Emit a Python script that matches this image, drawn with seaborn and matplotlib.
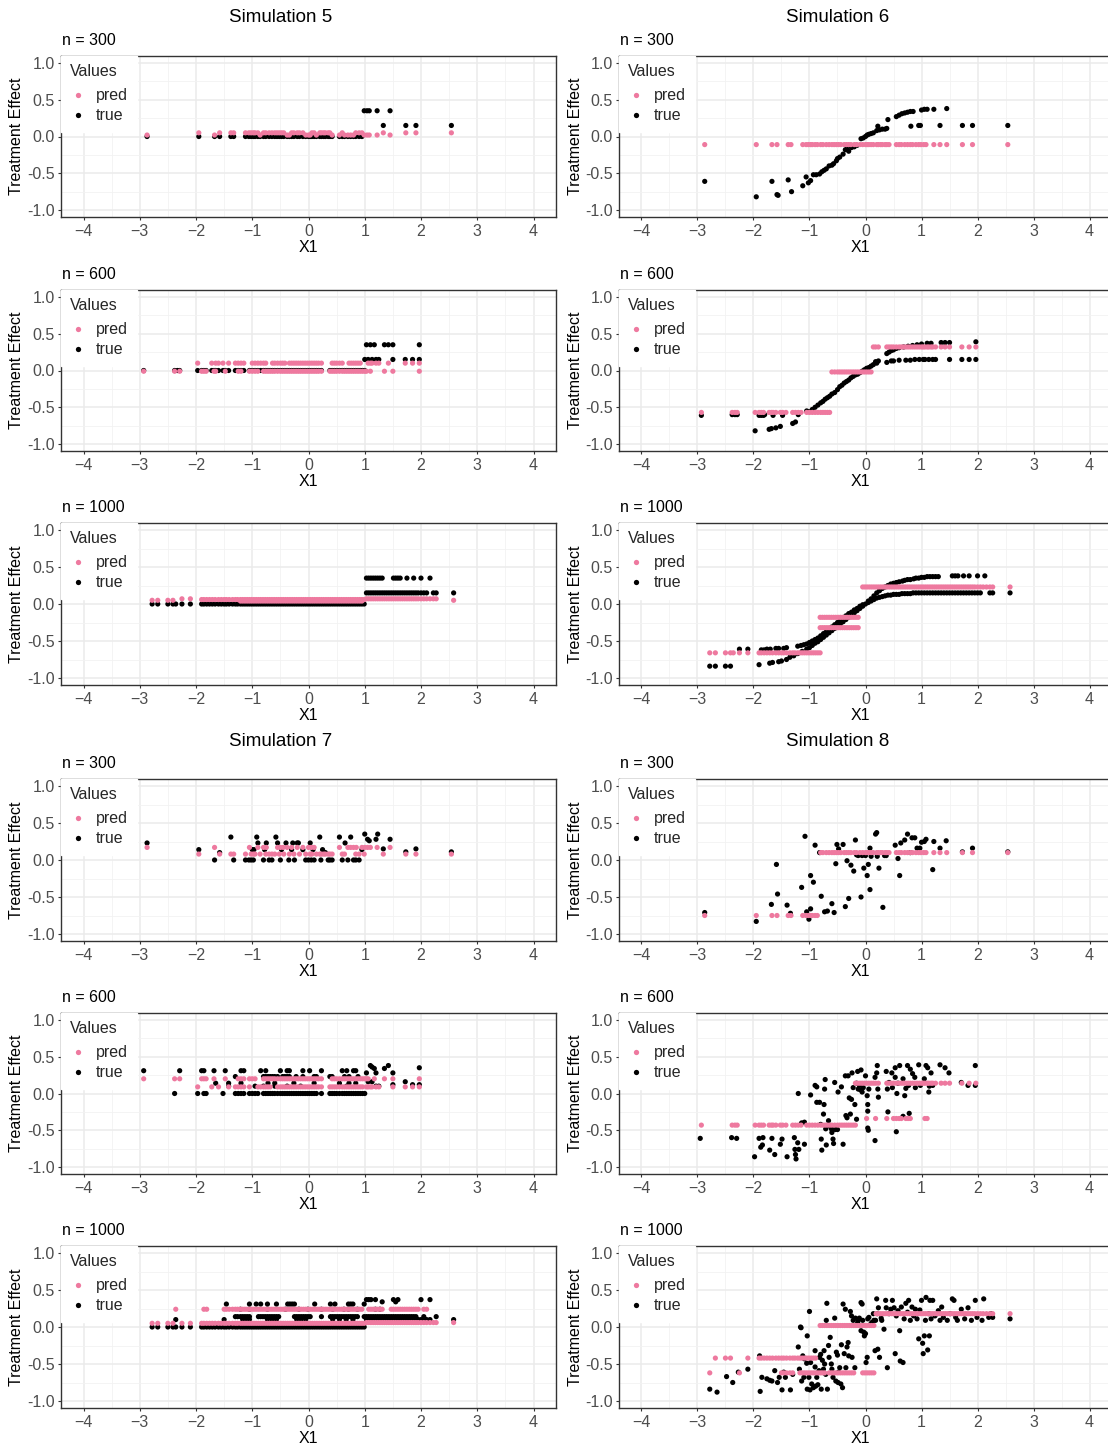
import matplotlib
matplotlib.use("Agg")
import matplotlib.pyplot as plt
from matplotlib.lines import Line2D
from matplotlib.ticker import MultipleLocator
import pandas as pd
import seaborn as sns

# ---------------------------------------------------------
# data
# rows  -> (y level, [x values]) ; pairs -> (x, y)
# ---------------------------------------------------------

X300 = [-2.87, -1.95, -1.67, -1.58, -1.38, -1.33, -1.12, -1.06, -1.02, -0.98, -0.95, -0.9,
        -0.86, -0.8, -0.76, -0.7, -0.65, -0.6, -0.56, -0.52, -0.48, -0.44, -0.38, -0.34,
        -0.3, -0.26, -0.2, -0.16, -0.1, -0.05, 0.0, 0.03, 0.06, 0.1, 0.14, 0.2, 0.23, 0.27,
        0.3, 0.35, 0.38, 0.42, 0.55, 0.6, 0.64, 0.7, 0.75, 0.8, 0.84, 0.9, 0.95, 0.99, 1.04,
        1.08, 1.22, 1.33, 1.45, 1.73, 1.91, 2.54]

X600 = [-2.93, -2.38, -2.33, -2.29, -1.97, -1.9, -1.86, -1.82, -1.72, -1.68, -1.65, -1.6,
        -1.52, -1.48, -1.42, -1.3, -1.25, -1.2, -1.15, -1.05, -1.0, -0.95, -0.9, -0.85, -0.8,
        -0.76, -0.72, -0.68, -0.64, -0.6, -0.55, -0.5, -0.46, -0.42, -0.38, -0.34, -0.3,
        -0.26, -0.22, -0.18, -0.14, -0.1, -0.06, -0.02, 0.02, 0.06, 0.1, 0.14, 0.18, 0.23,
        0.38, 0.42, 0.46, 0.5, 0.55, 0.6, 0.64, 0.68, 0.72, 0.76, 0.8, 0.84, 0.88, 0.92,
        0.96, 1.0, 1.03, 1.06, 1.1, 1.13, 1.17, 1.2, 1.25, 1.35, 1.42, 1.5, 1.72, 1.85, 1.97]

X1000 = [-2.78, -2.68, -2.5, -2.41, -2.36, -2.25, -2.1,
         -1.9, -1.86, -1.81, -1.76, -1.71, -1.66, -1.6, -1.55, -1.5, -1.46, -1.41, -1.35,
         -1.3, -1.26, -1.21, -1.17, -1.13, -1.09, -1.05, -1.01, -0.97, -0.93, -0.89, -0.85,
         -0.81, -0.77, -0.73, -0.69, -0.65, -0.61, -0.57, -0.53, -0.49, -0.45, -0.41, -0.37,
         -0.33, -0.29, -0.25, -0.21, -0.17, -0.13, -0.09, -0.05, -0.01, 0.03, 0.07, 0.11,
         0.15, 0.19, 0.23, 0.27, 0.31, 0.35, 0.39, 0.43, 0.47, 0.51, 0.55, 0.59, 0.63, 0.67,
         0.71, 0.75, 0.79, 0.83, 0.87, 0.91, 0.95, 0.99, 1.03, 1.07, 1.11, 1.15, 1.19, 1.23,
         1.27, 1.31, 1.35, 1.39, 1.43, 1.47, 1.51, 1.55, 1.59, 1.63, 1.67, 1.71, 1.75, 1.79,
         1.83, 1.87, 1.91, 1.95, 2.0, 2.05, 2.1, 2.16, 2.22, 2.27, 2.58]


def pick(xs, lo, hi):
    return [x for x in xs if lo <= x <= hi]


# ---------------- Simulation 5 ----------------
S5_300_TRUE = [(0.0, pick(X300, -3, 0.98)),
               (0.35, [0.99, 1.04, 1.08, 1.22, 1.45]),
               (0.15, [1.33, 1.73, 1.91, 2.54])]
S5_300_PRED = [(0.05, [-1.95, -1.58, -1.38, -1.33, -1.12, -1.06, -1.02, -0.98, -0.95, -0.9,
                       -0.8, -0.76, -0.7, -0.65, -0.6, -0.56, -0.52, -0.48, -0.44, -0.3, -0.26,
                       -0.2, -0.16, -0.1, 0.06, 0.1, 0.2, 0.23, 0.27, 0.3, 0.35, 0.38, 0.6,
                       0.84, 0.9, 0.95, 1.33, 1.73, 1.91, 2.54]),
               (0.02, [-2.87, -1.67, -0.86, -0.38, -0.34, -0.05, 0.0, 0.03, 0.14, 0.42, 0.55,
                       0.64, 0.7, 0.75, 0.8, 0.99, 1.04, 1.08, 1.22, 1.45])]

S5_600_TRUE = [(0.0, pick(X600, -3, 1.0)),
               (0.35, [1.03, 1.1, 1.17, 1.35, 1.42, 1.5, 1.97]),
               (0.15, [1.0, 1.06, 1.13, 1.2, 1.25, 1.5, 1.72, 1.85, 1.97])]
S5_600_PRED = [(0.1, [-1.97, -1.72, -1.65, -1.6, -1.52, -1.42, -1.3, -1.25, -1.2, -1.15, -1.0,
                      -0.95, -0.9, -0.85, -0.8, -0.76, -0.64, -0.6, -0.55, -0.5, -0.46, -0.42,
                      -0.34, -0.3, -0.26, -0.22, -0.18, -0.14, -0.1, -0.06, -0.02, 0.02, 0.06,
                      0.1, 0.14, 0.18, 0.23, 0.42, 0.46, 0.5, 0.55, 0.6, 0.72, 0.76, 0.8, 0.84,
                      0.88, 0.92, 1.06, 1.1, 1.13, 1.2, 1.25, 1.42, 1.72, 1.85, 1.97]),
               (-0.01, [-2.93, -2.38, -2.29, -1.9, -1.86, -1.82, -1.68, -1.65, -1.48, -1.25,
                        -1.2, -1.05, -1.0, -0.95, -0.9] + pick(X600, -0.8, 1.0)
                + [1.03, 1.1, 1.35, 1.5, 1.97])]

S5_1000_TRUE = [(0.0, pick(X1000, -3, 1.0)),
                (0.35, [1.03, 1.07, 1.11, 1.15, 1.19, 1.23, 1.27, 1.31, 1.51, 1.55, 1.59, 1.63,
                        1.75, 1.87, 2.0, 2.16]),
                (0.15, pick(X1000, 1.02, 2.1) + [2.22, 2.27, 2.58])]
S5_1000_PRED = [(0.05, [-2.78, -2.68, -2.5, -2.41]),
                (0.07, [-2.25, -2.1]),
                (0.06, pick(X1000, -1.92, 1.0)),
                (0.04, pick(X1000, -1.22, 0.96)),
                (0.07, pick(X1000, 1.02, 2.27)),
                (0.05, [2.58])]

# ---------------- Simulation 6 ----------------
S6_300_TRUE = [(-2.87, -0.61), (-1.95, -0.82), (-1.67, -0.61), (-1.58, -0.79), (-1.56, -0.8),
               (-1.38, -0.59), (-1.32, -0.75), (-1.12, -0.67), (-1.06, -0.55), (-1.02, -0.63),
               (-0.98, -0.6), (-0.93, -0.52), (-0.88, -0.52), (-0.82, -0.51), (-0.78, -0.48),
               (-0.74, -0.46), (-0.7, -0.44), (-0.65, -0.4), (-0.6, -0.39), (-0.57, -0.37),
               (-0.52, -0.33), (-0.5, -0.3), (-0.46, -0.28), (-0.4, -0.24), (-0.36, -0.18),
               (-0.33, -0.17), (-0.3, -0.2), (-0.25, -0.15), (-0.2, -0.14), (-0.15, -0.12),
               (-0.08, -0.03), (-0.04, -0.02), (0.0, 0.0), (0.03, 0.02), (0.06, 0.03),
               (0.1, 0.04), (0.14, 0.05), (0.2, 0.08), (0.22, 0.14), (0.25, 0.09), (0.3, 0.1),
               (0.35, 0.1), (0.38, 0.11), (0.4, 0.23), (0.55, 0.27), (0.6, 0.29), (0.65, 0.31),
               (0.7, 0.32), (0.75, 0.33), (0.8, 0.34), (0.81, 0.14), (0.85, 0.34), (0.95, 0.15),
               (0.98, 0.15), (1.0, 0.36), (1.05, 0.37), (1.1, 0.37), (1.22, 0.37), (1.33, 0.15),
               (1.45, 0.38), (1.73, 0.15), (1.91, 0.15), (2.54, 0.15)]
S6_300_PRED = [(-0.11, X300)]

S6_600_TRUE = [(-2.93, -0.61), (-2.38, -0.6), (-2.33, -0.6), (-2.29, -0.6), (-1.97, -0.82),
               (-1.9, -0.61), (-1.86, -0.61), (-1.82, -0.61), (-1.8, -0.6), (-1.72, -0.8),
               (-1.68, -0.79), (-1.65, -0.61), (-1.6, -0.78), (-1.52, -0.76), (-1.48, -0.61),
               (-1.3, -0.72), (-1.25, -0.7), (-1.2, -0.6), (-1.05, -0.55), (-1.0, -0.56),
               (-0.95, -0.53), (-0.9, -0.5), (-0.85, -0.47), (-0.8, -0.44), (-0.76, -0.42),
               (-0.72, -0.39), (-0.68, -0.37), (-0.64, -0.35), (-0.6, -0.32), (-0.55, -0.3),
               (-0.5, -0.26), (-0.46, -0.22), (-0.42, -0.2), (-0.38, -0.17), (-0.34, -0.15),
               (-0.3, -0.13), (-0.26, -0.1), (-0.22, -0.08), (-0.18, -0.06), (-0.14, -0.05),
               (-0.1, -0.03), (-0.06, -0.01), (-0.02, 0.01), (0.02, 0.03), (0.06, 0.04),
               (0.1, 0.06), (0.14, 0.08), (0.18, 0.12), (0.2, 0.1), (0.23, 0.13),
               (0.38, 0.23), (0.42, 0.25), (0.46, 0.27), (0.5, 0.28), (0.55, 0.3), (0.6, 0.31),
               (0.68, 0.32), (0.76, 0.33), (0.84, 0.34), (0.92, 0.35), (1.0, 0.36),
               (1.1, 0.37), (1.17, 0.37), (1.35, 0.38), (1.42, 0.38), (1.5, 0.38), (1.97, 0.39),
               (0.38, 0.11), (0.46, 0.13), (0.5, 0.13), (0.6, 0.14), (0.72, 0.14), (0.8, 0.14),
               (0.88, 0.15), (0.96, 0.15), (1.03, 0.15), (1.06, 0.15), (1.13, 0.15),
               (1.2, 0.15), (1.25, 0.15), (1.5, 0.15), (1.72, 0.15), (1.85, 0.15), (1.97, 0.15)]
S6_600_PRED = [(-0.57, pick(X600, -3, -0.62)),
               (-0.02, pick(X600, -0.6, 0.1)),
               (0.32, pick(X600, 0.14, 2.0))]

S6_1000_TRUE = [(-2.78, -0.84), (-2.68, -0.84), (-2.5, -0.84), (-2.41, -0.84), (-1.9, -0.82),
                (-1.71, -0.8), (-1.66, -0.79), (-1.55, -0.78), (-1.5, -0.77), (-1.41, -0.75),
                (-1.35, -0.72), (-1.28, -0.7), (-1.21, -0.67), (-1.13, -0.64), (-1.05, -0.61),
                (-1.0, -0.59), (-0.95, -0.56), (-0.9, -0.53), (-0.85, -0.51), (-0.8, -0.48),
                (-0.75, -0.45), (-0.7, -0.42), (-0.65, -0.39), (-0.6, -0.36), (-0.55, -0.33),
                (-0.5, -0.3), (-0.45, -0.27), (-0.4, -0.24), (-0.35, -0.21), (-0.3, -0.18),
                (-0.25, -0.15), (-0.2, -0.12), (-0.15, -0.09), (-0.1, -0.06), (-0.05, -0.03),
                (0.0, 0.0),
                (-2.25, -0.61), (-2.1, -0.61), (-1.86, -0.62), (-1.81, -0.62), (-1.76, -0.61),
                (-1.7, -0.61), (-1.6, -0.6), (-1.55, -0.6), (-1.46, -0.6), (-1.41, -0.59),
                (-1.21, -0.57), (-1.15, -0.56), (-1.1, -0.55), (-1.05, -0.54), (-1.0, -0.52),
                (-0.95, -0.5), (-0.9, -0.48), (-0.85, -0.46), (-0.8, -0.43), (-0.75, -0.4),
                (-0.7, -0.37), (-0.65, -0.34), (-0.6, -0.31), (-0.55, -0.28), (-0.5, -0.25),
                (-0.45, -0.22), (-0.4, -0.19), (-0.35, -0.16), (-0.3, -0.13), (-0.25, -0.11),
                (-0.2, -0.08), (-0.15, -0.06), (-0.1, -0.03), (-0.05, -0.01),
                (0.05, 0.04), (0.1, 0.07), (0.15, 0.11), (0.2, 0.15), (0.25, 0.18),
                (0.3, 0.21), (0.35, 0.23), (0.4, 0.25), (0.45, 0.27), (0.5, 0.28),
                (0.55, 0.29), (0.6, 0.3), (0.66, 0.31), (0.7, 0.32), (0.75, 0.33), (0.8, 0.33),
                (0.86, 0.34), (0.9, 0.35), (0.95, 0.35), (1.0, 0.36), (1.05, 0.36), (1.1, 0.37),
                (1.15, 0.37), (1.2, 0.37), (1.25, 0.37), (1.3, 0.37), (1.55, 0.38),
                (1.6, 0.38), (1.65, 0.38), (1.75, 0.38), (1.85, 0.38), (2.0, 0.38), (2.13, 0.38),
                (0.05, 0.02), (0.1, 0.04), (0.15, 0.06), (0.2, 0.08), (0.25, 0.09), (0.3, 0.1),
                (0.35, 0.11), (0.4, 0.12), (0.45, 0.12), (0.5, 0.13), (0.55, 0.13), (0.6, 0.13),
                (0.65, 0.14), (0.7, 0.14), (0.75, 0.14), (0.8, 0.14), (0.85, 0.15), (0.9, 0.15),
                (0.95, 0.15), (1.0, 0.15), (1.05, 0.15), (1.1, 0.15), (1.15, 0.15), (1.2, 0.15),
                (1.25, 0.15), (1.3, 0.15), (1.35, 0.15), (1.4, 0.15), (1.45, 0.15), (1.5, 0.15),
                (1.55, 0.15), (1.6, 0.15), (1.65, 0.15), (1.7, 0.15), (1.75, 0.15),
                (1.8, 0.15), (1.85, 0.15), (1.9, 0.15), (1.95, 0.15), (2.0, 0.15), (2.05, 0.15),
                (2.22, 0.15), (2.27, 0.15), (2.58, 0.15)]
S6_1000_PRED = [(-0.66, pick(X1000, -3, -0.78)),
                (-0.18, pick(X1000, -0.82, -0.1)),
                (-0.32, pick(X1000, -0.82, -0.1)),
                (0.23, pick(X1000, -0.06, 2.3) + [2.58])]

# ---------------- Simulation 7 ----------------
S7_300_TRUE = [(0.0, [-1.67, -1.33, -1.12, -1.06, -1.02, -0.98, -0.8, -0.7, -0.65, -0.5, -0.35,
                      -0.25, -0.05, 0.0, 0.05, 0.1, 0.22, 0.35, 0.38, 0.42, 0.6, 0.7, 0.8,
                      0.84, 0.9]),
               (0.1, [-1.58, 0.3]),
               (0.14, [-1.95, -1.0, -0.97, -0.78, -0.48, -0.3, -0.1, 0.08, 0.25, 0.95]),
               (0.23, [-2.87, -0.9, -0.75, -0.55, -0.4, -0.28, -0.2, -0.18, 0.03, 0.65]),
               (0.31, [-1.38, -0.92, -0.58, 0.2, 0.55, 0.75]),
               (0.35, [1.0, 1.23]), (0.28, [1.05, 1.2, 1.45]), (0.26, [1.08]),
               (0.15, [1.33, 1.91]), (0.11, [1.73, 2.54])]
S7_300_PRED = [(0.17, [-2.87, -1.67, -1.05, -0.9, -0.8, -0.75, -0.55, -0.5, -0.45, -0.38,
                       -0.3, -0.2, -0.1, 0.0, 0.05, 0.1, 0.55, 0.7, 0.75, 0.8, 0.85, 0.95, 1.0,
                       1.05, 1.1, 1.22, 1.45]),
               (0.08, [-1.95, -1.58, -1.38, -1.33, -1.12, -1.02, -0.98, -0.95, -0.86, -0.76,
                       -0.7, -0.65, -0.6, -0.52, -0.44, -0.34, -0.26, -0.16, -0.05, 0.03, 0.06,
                       0.14, 0.2, 0.23, 0.27, 0.3, 0.35, 0.38, 0.42, 0.6, 0.64, 0.84, 0.9, 0.99,
                       1.33, 1.73, 1.91, 2.54])]

S7_600_TRUE = [(0.31, [-2.93, -2.29, -1.9, -1.86, -1.68, -1.48, -1.2, -1.15, -0.85, -0.76,
                       -0.5, -0.38, -0.34, -0.1, 0.02, 0.23, 0.6, 0.68, 0.8, 0.84]),
               (0.23, [-1.3, -0.8, -0.76, -0.72, -0.68, -0.64, -0.6, -0.55, -0.46, -0.42, -0.38,
                       -0.34, -0.22, -0.1, 0.1, 0.14, 0.38, 0.42, 0.64, 0.72, 0.88]),
               (0.14, [-1.65, -1.42, -1.2, -0.72, -0.6, -0.26, 0.1, 0.55, 0.72, 0.84]),
               (0.1, [-1.42, -0.95, -0.8, -0.6, -0.38, -0.14, 0.55, 0.68]),
               (0.0, [-2.38, -1.97, -1.86, -1.82, -1.52, -1.3, -1.25, -1.2, -1.15, -1.05, -1.0,
                      -0.95, -0.9] + pick(X600, -0.8, 0.14) + [0.23] + pick(X600, 0.38, 1.0)),
               (0.28, [1.03, 1.2, 1.5]), (0.38, [1.1, 1.42]), (0.36, [1.13]),
               (0.34, [1.17, 1.35]), (0.16, [1.06, 1.13, 1.72]), (0.1, [1.2, 1.25]),
               (0.12, [1.5, 1.85, 1.97]), (0.35, [1.97])]
S7_600_PRED = [(0.2, [-2.93, -2.38, -2.29, -1.9, -1.86, -1.82, -1.68, -1.48, -1.25, -1.2, -1.15,
                      -1.05, -1.0, -0.95] + pick(X600, -0.8, 0.23) + pick(X600, 0.42, 1.06)
                + [1.17, 1.35, 1.5, 1.97]),
               (0.09, [-1.97, -1.72, -1.6, -1.42, -1.3, -1.25, -1.2, -1.15, -1.05, -0.9, -0.85,
                       -0.8, -0.76, -0.72, -0.68] + pick(X600, -0.55, 0.23)
                + pick(X600, 0.38, 0.96) + [1.03, 1.06, 1.1, 1.13, 1.2, 1.25, 1.5, 1.72, 1.85,
                                            1.97])]

S7_1000_TRUE = [(0.0, pick(X1000, -3, 1.0)),
                (0.1, [-2.36, -1.5, -1.17, -1.09, -1.05, -0.73, -0.65, -0.57, -0.21, -0.13,
                       -0.05, 0.43, 0.55, 0.67, 0.79] + pick(X1000, 1.0, 2.1) + [2.16, 2.58]),
                (0.14, pick(X1000, -1.3, -1.04) + pick(X1000, -0.92, -0.52)
                 + pick(X1000, -0.28, 0.04) + [0.23] + pick(X1000, 0.36, 0.88)
                 + pick(X1000, 0.96, 1.92) + [2.05, 2.27]),
                (0.24, [-1.21, -1.05, -0.73, -0.41, -0.17, -0.01, 0.23, 0.43, 0.63, 0.71, 0.87,
                        1.19, 1.27]),
                (0.31, [-1.46, -1.05, -0.93, -0.85, -0.73, -0.57, -0.37, -0.33, -0.29, -0.25,
                        0.11, 0.39, 0.47, 0.71, 0.75, 0.79, 0.99]),
                (0.37, [1.03, 1.07, 1.11, 1.19, 1.51, 1.59, 2.0, 2.16]),
                (0.34, [1.31, 1.55])]
S7_1000_PRED = [(0.24, [-2.36, -1.86, -1.81] + pick(X1000, -1.5, 0.96)
                 + pick(X1000, 1.04, 1.32) + pick(X1000, 1.44, 1.96) + [2.05, 2.1]),
                (0.05, [-2.78, -2.68, -2.5, -2.41, -2.25, -2.1] + pick(X1000, -1.92, 1.0)),
                (0.06, pick(X1000, 1.02, 2.27) + [2.58])]

# ---------------- Simulation 8 ----------------
S8_300_TRUE = [(-2.87, -0.71), (-1.95, -0.83), (-1.68, -0.6), (-1.59, -0.06), (-1.57, -0.46),
               (-1.4, -0.61), (-1.34, -0.72), (-1.14, -0.37), (-1.08, 0.32), (-1.05, -0.7),
               (-1.01, -0.8), (-0.98, -0.66), (-0.98, -0.21), (-0.93, -0.3), (-0.9, 0.2),
               (-0.82, 0.1), (-0.79, -0.49), (-0.73, -0.7), (-0.68, -0.69), (-0.6, -0.59),
               (-0.56, -0.71), (-0.53, -0.05), (-0.51, 0.21), (-0.48, 0.15), (-0.4, 0.21),
               (-0.36, -0.63), (-0.33, -0.01), (-0.3, -0.52), (-0.26, -0.07), (-0.21, -0.15),
               (-0.18, 0.27), (-0.16, 0.07), (-0.13, 0.06), (-0.08, -0.5), (-0.06, 0.06),
               (-0.03, -0.11), (0.0, 0.06), (0.03, -0.21), (0.05, -0.06), (0.08, 0.16),
               (0.08, -0.4), (0.1, 0.05), (0.18, 0.35), (0.2, 0.37), (0.21, 0.05), (0.24, -0.11),
               (0.31, -0.64), (0.34, 0.06), (0.37, 0.06), (0.53, 0.2), (0.58, 0.02),
               (0.61, -0.21), (0.63, 0.23), (0.7, 0.27), (0.75, 0.35), (0.8, 0.1), (0.83, 0.3),
               (0.88, 0.3), (0.92, 0.16), (0.97, 0.16), (1.0, 0.24), (1.05, 0.25), (1.08, 0.28),
               (1.2, -0.13), (1.22, 0.25), (1.33, 0.16), (1.44, 0.26), (1.73, 0.11),
               (1.91, 0.16), (2.54, 0.11)]
S8_300_PRED = [(-0.75, pick(X300, -3, -0.82)), (0.1, pick(X300, -0.8, 3))]

S8_600_TRUE = [(-2.95, -0.61), (-2.39, -0.6), (-2.3, -0.61), (-1.98, -0.86), (-1.9, -0.61),
               (-1.87, -0.73), (-1.83, -0.6), (-1.84, -0.7), (-1.71, -0.77), (-1.67, -0.61),
               (-1.62, -0.83), (-1.52, -0.69), (-1.49, -0.62), (-1.4, -0.86), (-1.27, -0.6),
               (-1.26, -0.76), (-1.25, -0.83), (-1.24, -0.89), (-1.21, -0.67), (-1.19, -0.76),
               (-1.2, 0.0), (-1.14, -0.4), (-1.09, -0.69), (-0.98, -0.02), (-1.09, -0.39),
               (-0.9, 0.11), (-0.87, 0.09), (-0.87, -0.12), (-0.82, -0.12), (-0.8, -0.42),
               (-0.79, -0.62), (-0.78, -0.77), (-0.75, -0.28), (-0.74, -0.15), (-0.73, 0.06),
               (-0.72, 0.19), (-0.71, -0.48), (-0.7, -0.7), (-0.66, -0.37), (-0.65, -0.44),
               (-0.61, -0.48), (-0.6, -0.53), (-0.58, -0.62), (-0.57, -0.68), (-0.55, 0.15),
               (-0.54, -0.49), (-0.5, -0.49), (-0.49, 0.02), (-0.43, 0.09), (-0.4, -0.69),
               (-0.36, 0.24), (-0.35, -0.3), (-0.33, -0.33), (-0.31, 0.24), (-0.29, -0.06),
               (-0.27, -0.28), (-0.25, -0.08), (-0.24, 0.28), (-0.22, 0.08), (-0.19, -0.15),
               (-0.16, 0.14), (-0.14, 0.3), (-0.16, -0.35), (-0.13, 0.06), (-0.11, 0.11),
               (-0.09, 0.05), (-0.08, 0.32), (-0.06, 0.02), (-0.04, 0.08), (0.0, 0.24),
               (0.03, -0.03), (0.04, -0.15), (0.04, -0.24), (0.04, -0.47), (0.05, -0.5),
               (0.06, 0.06), (0.17, 0.22), (0.17, -0.64), (0.2, 0.28), (0.21, 0.38),
               (0.22, 0.06), (0.23, -0.05), (0.37, 0.3), (0.39, 0.06), (0.4, -0.25),
               (0.42, 0.15), (0.47, 0.28), (0.48, 0.08), (0.53, 0.22), (0.53, 0.35),
               (0.55, -0.52), (0.56, 0.0), (0.58, 0.14), (0.61, 0.38), (0.67, 0.2),
               (0.67, -0.31), (0.7, -0.03), (0.72, 0.07), (0.75, 0.38), (0.77, 0.11),
               (0.78, -0.27), (0.8, 0.33), (0.84, 0.27), (0.88, 0.22), (0.89, 0.08),
               (0.95, 0.39), (0.98, 0.11), (1.05, 0.2), (1.08, 0.38), (1.11, 0.35),
               (1.13, 0.02), (1.14, 0.1), (1.17, 0.28), (1.2, 0.11), (1.33, 0.39),
               (1.42, 0.35), (1.49, 0.28), (1.71, 0.15), (1.83, 0.11), (1.96, 0.11),
               (1.96, 0.38)]
S8_600_PRED = [(-0.43, pick(X600, -3, -0.16)),
               (0.14, pick(X600, -0.18, 1.5) + [1.72, 1.85, 1.97]),
               (-0.34, [0.02, 0.18, 0.38, 0.5, 0.55, 0.6, 0.64, 0.72, 0.76, 0.8, 1.06, 1.1])]

S8_1000_TRUE = [(-2.78, -0.84), (-2.65, -0.88), (-2.48, -0.67), (-2.37, -0.75), (-2.27, -0.61),
                (-2.1, -0.57), (-1.89, -0.39), (-1.88, -0.87), (-1.85, -0.68), (-1.76, -0.7),
                (-1.71, -0.72), (-1.67, -0.73), (-1.62, -0.59), (-1.57, -0.75), (-1.54, -0.68),
                (-1.49, -0.85), (-1.46, -0.61), (-1.43, -0.68), (-1.34, -0.85), (-1.3, -0.64),
                (-1.2, -0.27), (-1.18, -0.57), (-1.16, 0.0), (-1.15, -0.01), (-1.14, -0.73),
                (-1.12, -0.39), (-1.1, -0.68), (-1.09, -0.43), (-1.05, -0.49), (-1.04, -0.12),
                (-1.04, -0.84), (-1.01, -0.68), (-1.0, 0.21), (-0.99, -0.85), (-0.98, -0.48),
                (-0.96, -0.77), (-0.93, -0.82), (-0.9, -0.54), (-0.9, -0.32), (-0.89, -0.8),
                (-0.87, -0.68), (-0.85, -0.78), (-0.83, -0.59), (-0.82, -0.41), (-0.8, -0.37),
                (-0.79, -0.84), (-0.77, -0.45), (-0.75, -0.57), (-0.74, -0.32), (-0.73, -0.5),
                (-0.71, -0.64), (-0.7, 0.09), (-0.69, 0.32), (-0.68, -0.84), (-0.66, -0.25),
                (-0.65, -0.41), (-0.63, -0.14), (-0.61, -0.5), (-0.6, -0.57), (-0.58, -0.68),
                (-0.55, 0.12), (-0.53, -0.73), (-0.52, -0.34), (-0.5, -0.38), (-0.49, -0.75),
                (-0.48, -0.61), (-0.46, -0.55), (-0.44, -0.77), (-0.43, -0.24), (-0.41, -0.82),
                (-0.4, 0.31), (-0.38, -0.36), (-0.36, 0.24), (-0.35, -0.55), (-0.33, -0.27),
                (-0.31, -0.21), (-0.3, -0.39), (-0.27, 0.21), (-0.25, 0.15), (-0.24, -0.41),
                (-0.22, 0.09), (-0.19, -0.55), (-0.18, 0.12), (-0.14, 0.06), (-0.13, 0.09),
                (-0.11, 0.12), (-0.08, -0.05), (-0.08, 0.33), (-0.06, 0.31), (-0.05, 0.09),
                (-0.03, -0.07), (-0.02, -0.12), (0.0, -0.09), (0.01, -0.48), (0.03, -0.41),
                (0.04, 0.11), (0.06, 0.13), (0.08, 0.03), (0.11, 0.06), (0.14, 0.18),
                (0.15, 0.09), (0.17, -0.32), (0.18, 0.09), (0.2, 0.38), (0.21, 0.18),
                (0.22, -0.3), (0.23, 0.26), (0.25, -0.41), (0.28, 0.12), (0.29, 0.09),
                (0.33, -0.03), (0.36, 0.36), (0.37, 0.26), (0.39, -0.55), (0.42, 0.18),
                (0.45, 0.24), (0.48, 0.36), (0.51, 0.26), (0.53, -0.36), (0.55, 0.15),
                (0.58, 0.22), (0.61, -0.05), (0.62, -0.46), (0.64, 0.27), (0.67, -0.48),
                (0.69, 0.11), (0.72, 0.32), (0.75, 0.2), (0.77, 0.36), (0.8, 0.09), (0.83, 0.27),
                (0.86, 0.15), (0.89, 0.24), (0.92, 0.11), (0.95, -0.16), (0.97, 0.23),
                (1.0, 0.36), (1.02, -0.22), (1.03, -0.36), (1.05, -0.12), (1.07, 0.09),
                (1.08, 0.4), (1.11, -0.31), (1.13, 0.18), (1.14, -0.12), (1.15, 0.36),
                (1.17, 0.11), (1.2, 0.36), (1.24, 0.15), (1.3, 0.22), (1.33, 0.09), (1.36, 0.27),
                (1.39, 0.13), (1.46, 0.09), (1.51, 0.18), (1.55, 0.38), (1.58, 0.36),
                (1.61, 0.13), (1.64, 0.09), (1.71, 0.24), (1.77, 0.11), (1.83, 0.26),
                (1.89, 0.09), (1.96, 0.36), (1.99, 0.13), (2.08, 0.09), (2.11, 0.38),
                (2.2, 0.13), (2.24, 0.18), (2.27, 0.13), (2.58, 0.11)]
S8_1000_PRED = [(-0.62, [-2.78, -2.25] + pick(X1000, -1.54, -1.3) + pick(X1000, -1.2, -0.72)
                 + pick(X1000, -0.68, -0.18) + pick(X1000, -0.05, 0.17)),
                (-0.42, [-2.68, -2.5, -2.41, -2.1] + pick(X1000, -1.9, -0.86)),
                (0.02, pick(X1000, -0.84, 0.17)),
                (0.18, pick(X1000, 0.18, 2.27) + [2.58])]

SIM_TITLES = ["Simulation 5", "Simulation 6", "Simulation 7", "Simulation 8"]
N_LABELS = ["n = 300", "n = 600", "n = 1000"]

# (row, col, true, pred)
PANELS = [
    (0, 0, S5_300_TRUE, S5_300_PRED), (1, 0, S5_600_TRUE, S5_600_PRED),
    (2, 0, S5_1000_TRUE, S5_1000_PRED),
    (0, 1, S6_300_TRUE, S6_300_PRED), (1, 1, S6_600_TRUE, S6_600_PRED),
    (2, 1, S6_1000_TRUE, S6_1000_PRED),
    (3, 0, S7_300_TRUE, S7_300_PRED), (4, 0, S7_600_TRUE, S7_600_PRED),
    (5, 0, S7_1000_TRUE, S7_1000_PRED),
    (3, 1, S8_300_TRUE, S8_300_PRED), (4, 1, S8_600_TRUE, S8_600_PRED),
    (5, 1, S8_1000_TRUE, S8_1000_PRED),
]

PINK = "#EE799F"

# ---------------------------------------------------------
# layout (pixels)
# ---------------------------------------------------------
W, H = 1108, 1449
COL_X = [(61, 556), (619, 1112)]
ROW_Y = [(55.6, 217.4), (289.6, 451.4), (522.6, 685.4),
         (778.6, 941.4), (1012.6, 1174.4), (1245.6, 1408.4)]
TITLE_POS = [(281, 17), (838, 17), (281, 741), (838, 741)]

sns.set_theme(style="white")
plt.rcParams["font.family"] = ["Liberation Sans", "DejaVu Sans"]


def expand(spec):
    xs, ys = [], []
    for a, b in spec:
        if isinstance(b, list):
            xs += b
            ys += [a] * len(b)
        else:
            xs.append(a)
            ys.append(b)
    return xs, ys


def make_df(true_spec, pred_spec):
    tx, ty = expand(true_spec)
    px, py = expand(pred_spec)
    return pd.DataFrame({
        "X1": tx + px,
        "effect": ty + py,
        "Values": ["true"] * len(tx) + ["pred"] * len(px),
    })


def ftext(x, y, s, **kw):
    fig.text(x / W, 1 - y / H, s, **kw)


fig = plt.figure(figsize=(W / 100, H / 100), dpi=100)

for row, col, true_spec, pred_spec in PANELS:
    x0, x1 = COL_X[col]
    y0, y1 = ROW_Y[row]
    ax = fig.add_axes([x0 / W, 1 - y1 / H, (x1 - x0) / W, (y1 - y0) / H])
    df = make_df(true_spec, pred_spec)

    sns.scatterplot(data=df, x="X1", y="effect", hue="Values",
                    palette={"pred": PINK, "true": "black"},
                    s=14, linewidth=0, legend=False, ax=ax, zorder=3)

    ax.set_xlim(-4.4, 4.4)
    ax.set_ylim(-1.1, 1.1)
    ax.set_xticks(range(-4, 5))
    ax.set_yticks([-1.0, -0.5, 0.0, 0.5, 1.0])
    ax.set_yticklabels(["-1.0", "-0.5", "0.0", "0.5", "1.0"])
    ax.xaxis.set_minor_locator(MultipleLocator(0.5))
    ax.yaxis.set_minor_locator(MultipleLocator(0.25))
    ax.grid(which="major", color="#EBEBEB", linewidth=1.1)
    ax.grid(which="minor", color="#F2F2F2", linewidth=0.6)
    ax.set_axisbelow(True)
    ax.tick_params(which="major", length=2.5, width=0.8, color="#333333",
                   labelsize=11.5, labelcolor="#4D4D4D", pad=2,
                   bottom=True, left=True)
    ax.tick_params(which="minor", length=0)
    for sp in ax.spines.values():
        sp.set_color("#333333")
        sp.set_linewidth(1.0)
    ax.set_xlabel("")
    ax.set_ylabel("")

    handles = [Line2D([], [], marker="o", ls="", markersize=3.8, color=PINK, mec="none"),
               Line2D([], [], marker="o", ls="", markersize=3.8, color="black", mec="none")]
    leg = ax.legend(handles, ["pred", "true"], title="Values", loc="upper left",
                    bbox_to_anchor=(0, 1), borderaxespad=0.0, frameon=True,
                    fancybox=False, facecolor="white", edgecolor="white", framealpha=1,
                    fontsize=11.5, title_fontsize=11.5, alignment="left",
                    handlelength=1.05, handletextpad=0.6, labelspacing=0.3,
                    borderpad=0.55)
    leg._legend_box.sep = 6.5
    leg.set_zorder(5)

    ftext(x0 + 1, y0 - 15, N_LABELS[row % 3], fontsize=11.5, ha="left", va="center",
          color="black")
    ftext((x0 + x1) / 2 if col == 0 else (x0 + x1) / 2 - 5, y1 + 30, "X1",
          fontsize=11.5, ha="center", va="center", color="black")
    ftext(x0 - 44, (y0 + y1) / 2, "Treatment Effect", fontsize=11.5, rotation=90,
          ha="center", va="center", color="black")

for title, (tx, ty) in zip(SIM_TITLES, TITLE_POS):
    ftext(tx, ty, title, fontsize=13.5, ha="center", va="center", color="black")

fig.savefig("out.png", dpi=100, facecolor="white")
